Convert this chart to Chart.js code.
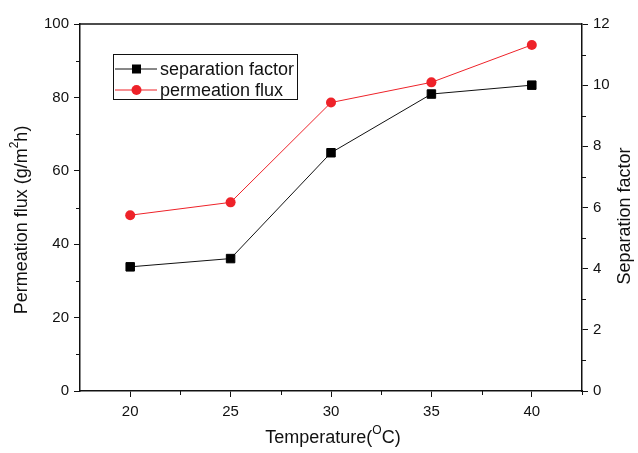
<!DOCTYPE html>
<html>
<head>
<meta charset="utf-8">
<script src="https://cdn.jsdelivr.net/npm/chart.js@4/dist/chart.umd.min.js"></script>
<style>
  html, body { margin: 0; padding: 0; background: #fff; }
  #wrap { width: 638px; height: 453px; }
</style>
</head>
<body>
<div id="wrap"><canvas id="fluxChart" width="638" height="453"></canvas></div>
<script>
// Temperature (°C) vs. separation factor / permeation flux
const temperatures = [20, 25, 30, 35, 40];
const separationFactor = [4.06, 4.33, 7.79, 9.71, 10.0];
const permeationFlux = [47.9, 51.4, 78.6, 84.1, 94.3];

const xTicks = [20, 25, 30, 35, 40];
const fluxTicks = [0, 20, 40, 60, 80, 100];
const factorTicks = [0, 2, 4, 6, 8, 10, 12];

const FONT = "'Liberation Sans', Arial, sans-serif";
const AXIS = '#111';
const RED = '#ee2229';

const toPoints = ys => temperatures.map((t, i) => ({ x: t, y: ys[i] }));
const halfSteps = ticks => ticks.slice(1).map((v, i) => (v + ticks[i]) / 2);

// text with superscript pieces, centered on (0,0)
function drawRich(ctx, parts, size) {
  const sup = Math.round(size * 0.65);
  let w = 0;
  parts.forEach(p => {
    ctx.font = (p.sup ? sup : size) + 'px ' + FONT;
    p.w = ctx.measureText(p.t).width;
    w += p.w;
  });
  let x = -w / 2;
  ctx.textBaseline = 'middle';
  ctx.textAlign = 'left';
  parts.forEach(p => {
    ctx.font = (p.sup ? sup : size) + 'px ' + FONT;
    ctx.fillText(p.t, x, p.sup ? -size * 0.38 : 0);
    x += p.w;
  });
}

const decor = {
  id: 'decor',
  afterDraw(chart) {
    const { ctx, chartArea: a, scales } = chart;
    ctx.save();
    ctx.strokeStyle = AXIS;
    ctx.lineWidth = 1.5;
    // top frame line
    ctx.beginPath();
    ctx.moveTo(a.left, a.top);
    ctx.lineTo(a.right, a.top);
    ctx.stroke();

    // minor ticks
    ctx.lineWidth = 1;
    ctx.beginPath();
    halfSteps(xTicks).concat([42.5]).forEach(v => {
      const px = Math.round(scales.x.getPixelForValue(v)) + 0.5;
      ctx.moveTo(px, a.bottom); ctx.lineTo(px, a.bottom + 4);
    });
    halfSteps(fluxTicks).forEach(v => {
      const py = Math.round(scales.y.getPixelForValue(v)) + 0.5;
      ctx.moveTo(a.left, py); ctx.lineTo(a.left - 4, py);
    });
    halfSteps(factorTicks).forEach(v => {
      const py = Math.round(scales.y1.getPixelForValue(v)) + 0.5;
      ctx.moveTo(a.right, py); ctx.lineTo(a.right + 4, py);
    });
    ctx.stroke();

    // axis titles
    ctx.fillStyle = '#111';
    ctx.save();
    ctx.translate((a.left + a.right) / 2 + 2, 438);
    drawRich(ctx, [{ t: 'Temperature(' }, { t: 'O', sup: true }, { t: 'C)' }], 18);
    ctx.restore();

    ctx.save();
    ctx.translate(22, 220);
    ctx.rotate(-Math.PI / 2);
    drawRich(ctx, [{ t: 'Permeation flux (g/m' }, { t: '2', sup: true }, { t: 'h)' }], 18);
    ctx.restore();

    ctx.save();
    ctx.translate(625, 216);
    ctx.rotate(-Math.PI / 2);
    drawRich(ctx, [{ t: 'Separation factor' }], 18);
    ctx.restore();

    // legend box
    const lx = 113, ly = 54, lw = 184, lh = 45;
    ctx.strokeStyle = '#111';
    ctx.lineWidth = 1;
    ctx.strokeRect(lx + 0.5, ly + 0.5, lw, lh);
    chart.data.datasets.forEach((ds, i) => {
      const y = ly + 15 + i * 21;
      ctx.strokeStyle = ds.borderColor;
      ctx.lineWidth = 1;
      ctx.beginPath();
      ctx.moveTo(lx + 2, y); ctx.lineTo(lx + 44, y);
      ctx.stroke();
      ctx.fillStyle = ds.pointBackgroundColor;
      if (ds.pointStyle === 'rect') {
        ctx.fillRect(lx + 19, y - 4.5, 9, 9);
      } else {
        ctx.beginPath();
        ctx.arc(lx + 23.5, y, 5, 0, Math.PI * 2);
        ctx.fill();
      }
      ctx.fillStyle = '#111';
      ctx.font = '18px ' + FONT;
      ctx.textAlign = 'left';
      ctx.textBaseline = 'middle';
      ctx.fillText(ds.label, lx + 47, y + 1);
    });
    ctx.restore();
  }
};

const tickStyle = { color: '#111', font: { family: FONT, size: 15 } };
const gridStyle = { drawOnChartArea: false, drawTicks: true, tickLength: 6, color: AXIS, lineWidth: 1 };
const borderStyle = { display: true, color: AXIS, width: 1.5 };

new Chart(document.getElementById('fluxChart').getContext('2d'), {
  type: 'line',
  data: {
    datasets: [{
      label: 'separation factor',
      data: toPoints(separationFactor),
      yAxisID: 'y1',
      borderColor: '#111',
      borderWidth: 1,
      pointStyle: 'rect',
      pointRadius: 6,
      pointBackgroundColor: '#000',
      pointBorderColor: '#000',
      pointBorderWidth: 1,
      tension: 0
    }, {
      label: 'permeation flux',
      data: toPoints(permeationFlux),
      yAxisID: 'y',
      borderColor: RED,
      borderWidth: 1,
      pointStyle: 'circle',
      pointRadius: 5,
      pointBackgroundColor: RED,
      pointBorderColor: RED,
      pointBorderWidth: 0,
      tension: 0
    }]
  },
  options: {
    responsive: false,
    animation: false,
    layout: { padding: { top: 24, left: 0, right: 0, bottom: 0 } },
    plugins: { legend: { display: false }, tooltip: { enabled: false } },
    scales: {
      x: {
        type: 'linear',
        min: 17.5,
        max: 42.5,
        afterBuildTicks: s => { s.ticks = xTicks.map(v => ({ value: v })); },
        afterFit: s => { s.height = 62; },
        ticks: { ...tickStyle, padding: 6 },
        grid: gridStyle,
        border: borderStyle
      },
      y: {
        position: 'left',
        min: 0,
        max: 100,
        afterBuildTicks: s => { s.ticks = fluxTicks.map(v => ({ value: v })); },
        afterFit: s => { s.width = 80; },
        ticks: { ...tickStyle, padding: 5 },
        grid: gridStyle,
        border: borderStyle
      },
      y1: {
        position: 'right',
        min: 0,
        max: 12,
        afterBuildTicks: s => { s.ticks = factorTicks.map(v => ({ value: v })); },
        afterFit: s => { s.width = 56; },
        ticks: { ...tickStyle, padding: 5 },
        grid: gridStyle,
        border: borderStyle
      }
    }
  },
  plugins: [decor]
});
</script>
</body>
</html>
